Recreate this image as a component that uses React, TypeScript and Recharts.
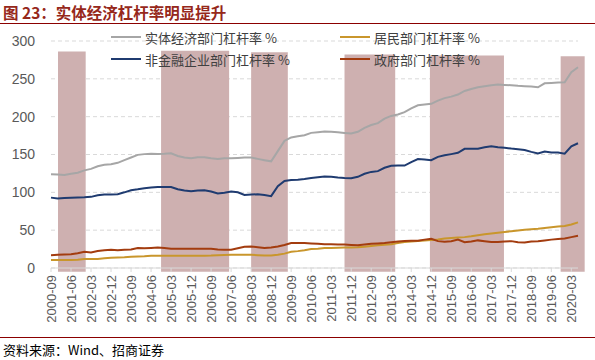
import React from "react";
import { LineChart, Line, XAxis, YAxis, CartesianGrid, ReferenceArea } from "recharts";

const quarters = [
  "2000-09", "2000-12",
  "2001-03", "2001-06", "2001-09", "2001-12",
  "2002-03", "2002-06", "2002-09", "2002-12",
  "2003-03", "2003-06", "2003-09", "2003-12",
  "2004-03", "2004-06", "2004-09", "2004-12",
  "2005-03", "2005-06", "2005-09", "2005-12",
  "2006-03", "2006-06", "2006-09", "2006-12",
  "2007-03", "2007-06", "2007-09", "2007-12",
  "2008-03", "2008-06", "2008-09", "2008-12",
  "2009-03", "2009-06", "2009-09", "2009-12",
  "2010-03", "2010-06", "2010-09", "2010-12",
  "2011-03", "2011-06", "2011-09", "2011-12",
  "2012-03", "2012-06", "2012-09", "2012-12",
  "2013-03", "2013-06", "2013-09", "2013-12",
  "2014-03", "2014-06", "2014-09", "2014-12",
  "2015-03", "2015-06", "2015-09", "2015-12",
  "2016-03", "2016-06", "2016-09", "2016-12",
  "2017-03", "2017-06", "2017-09", "2017-12",
  "2018-03", "2018-06", "2018-09", "2018-12",
  "2019-03", "2019-06", "2019-09", "2019-12",
  "2020-03", "2020-06",
];

const tickLabels = [
  "2000-09", "2001-06", "2002-03", "2002-12", "2003-09", "2004-06", "2005-03",
  "2005-12", "2006-09", "2007-06", "2008-03", "2008-12", "2009-09", "2010-06",
  "2011-03", "2011-12", "2012-09", "2013-06", "2014-03", "2014-12", "2015-09",
  "2016-06", "2017-03", "2017-12", "2018-09", "2019-06", "2020-03",
];

// 实体经济部门杠杆率
const realEconomy = [
  124, 123.5, 123, 124.5, 126, 129, 131, 134.5, 136.5, 137,
  139, 142.5, 146, 149.5, 150.5, 151, 150.5, 151, 151.7, 148,
  146, 145, 146.5, 146.5, 145, 144, 145, 145, 145.5, 146,
  146, 144.2, 142.5, 141, 154.5, 168, 172.5, 174, 175.5, 178.6,
  179.5, 180.3, 180, 179.4, 178.5, 177.7, 180, 185.2, 189, 191.5,
  197.5, 201, 202.8, 206, 211, 215.1, 216, 217, 221.3, 224.5,
  226.5, 229.2, 234, 236.5, 238.8, 240.3, 241.5, 242.4, 242, 241.5,
  240.7, 240.3, 239.8, 238.8, 244.1, 244.5, 245, 245.5, 258.7, 265.3,
];

// 居民部门杠杆率
const household = [
  10.6, 10.6, 10.6, 10.7, 11, 11.8, 12, 12, 12.8, 13.4,
  14, 14.3, 14.8, 15.2, 15.6, 16.2, 16.2, 16.2, 16.2, 16.2,
  16.2, 16.2, 16.2, 16.3, 16.5, 17, 17.2, 17.4, 17.6, 17.6,
  17.5, 17, 16.5, 16.5, 17.5, 19, 21.5, 22.3, 23.5, 25,
  25.5, 26.3, 26.5, 26.8, 27, 27, 27.3, 28, 29.2, 30,
  30.6, 31.5, 33, 34.3, 35, 35.7, 36.5, 37.1, 37.8, 38.9,
  39.5, 40.2, 40.8, 42, 43.4, 44.5, 45.5, 46.5, 47.6, 48.6,
  49.6, 50.4, 51.2, 51.9, 52.8, 53.8, 54.7, 55.5, 57.5, 60.3,
];

// 非金融企业部门杠杆率
const corporate = [
  93, 91.8, 92.5, 93, 93.3, 93.5, 94, 96, 97, 97,
  97.5, 100, 102.8, 104, 105.5, 106.5, 107, 107, 107, 104,
  102.5, 101.5, 102.5, 102.8, 101, 98.4, 99.5, 101, 100, 96.5,
  97, 97.5, 96.5, 95, 108, 115, 116.3, 116.7, 117.5, 119,
  120, 121, 120.5, 119.6, 119, 118.6, 120.5, 124.5, 127, 128,
  132.5, 135, 135.5, 135.4, 140, 144, 143.5, 142.4, 146.9, 149,
  150.5, 152.2, 157.5, 157.5, 157.5, 159.5, 160.9, 159.5, 158.8, 157.8,
  157, 156, 153.5, 151.3, 153.9, 152.8, 152.6, 151, 160.9, 164.9,
];

// 政府部门杠杆率
const government = [
  17, 17.5, 18, 18.3, 19.5, 21.5, 20.5, 22.5, 23.5, 24,
  23.5, 24, 24.5, 26.5, 26, 26.5, 27, 26.5, 25.5, 25.5,
  25.5, 25.5, 25.5, 25.5, 25.5, 24.5, 24, 24, 26, 28,
  28.3, 27.5, 26.5, 27, 28.5, 30.5, 33, 33, 33, 32.5,
  32, 31.5, 31.5, 31, 31, 30.5, 30, 31, 32, 32.5,
  33, 34, 35, 35.7, 36, 36, 37.5, 38.5, 35.5, 34.7,
  35.5, 37.5, 34, 35, 36.5, 35.5, 34.5, 34.3, 35, 35.5,
  34, 33.8, 35, 35.5, 36.5, 37.5, 38.3, 39, 40.8, 42.6,
];

// shaded periods, in quarter index units
const bandStart = [1.05, 16.5, 30, 44, 56.8, 76.4];
const bandEnd = [5.2, 26.7, 35.5, 51.6, 67.9, 80];
const bandTop = [286, 287, 285, 282, 281, 280];
const bandBottom = -5;

const yTicks = [0, 50, 100, 150, 200, 250, 300];

const series = [
  { key: "real", name: "实体经济部门杠杆率 %", color: "#a6a6a6" },
  { key: "corporate", name: "非金融企业部门杠杆率 %", color: "#1f3b70" },
  { key: "household", name: "居民部门杠杆率 %", color: "#c9962c" },
  { key: "government", name: "政府部门杠杆率 %", color: "#a33c0f" },
];

const data = quarters.map((q, i) => ({
  i,
  q,
  real: realEconomy[i],
  household: household[i],
  corporate: corporate[i],
  government: government[i],
}));

const tickIdx = tickLabels.map((t) => quarters.indexOf(t));

const XTick = (props: any) => {
  const { x, y, payload } = props;
  return (
    <text
      x={0}
      y={0}
      transform={`translate(${x},${y}) rotate(-90)`}
      textAnchor="end"
      dominantBaseline="central"
      fontSize={13}
      fill="#595959"
      fontFamily="'Liberation Sans', Arial, sans-serif"
    >
      {quarters[payload.value]}
    </text>
  );
};

const legendPos = [
  { left: 111, top: 37 },
  { left: 111, top: 59 },
  { left: 340, top: 37 },
  { left: 340, top: 59 },
];

export default function App() {
  return (
    <div
      style={{
        position: "absolute",
        left: 0,
        top: 0,
        width: 595,
        height: 360,
        background: "#fff",
        overflow: "hidden",
      }}
    >
      <div
        style={{
          position: "absolute",
          left: 3,
          top: 2,
          fontFamily: "'Noto Sans CJK SC', sans-serif",
          fontWeight: 700,
          fontSize: 15.5,
          color: "#96281b",
          whiteSpace: "nowrap",
          lineHeight: "20px",
        }}
      >
        图 23：实体经济杠杆率明显提升
      </div>
      <div style={{ position: "absolute", left: 0, top: 23, width: 595, height: 1, background: "#8b0000" }} />

      <div style={{ position: "absolute", left: 0, top: 0 }}>
        <LineChart width={595} height={360} data={data} margin={{ top: 41, right: 17, left: 0, bottom: 32 }}>
          <CartesianGrid vertical={false} stroke="#d9d9d9" strokeDasharray="4 3" />
          {bandStart.map((s, k) => (
            <ReferenceArea
              key={k}
              x1={s}
              x2={bandEnd[k]}
              y1={bandBottom}
              y2={bandTop[k]}
              fill="#ceb0b0"
              fillOpacity={1}
              stroke="none"
              ifOverflow="visible"
            />
          ))}
          <XAxis
            dataKey="i"
            type="number"
            domain={[0, 79]}
            ticks={tickIdx}
            interval={0}
            height={60}
            tick={<XTick />}
            tickSize={4}
            tickMargin={3}
            axisLine={{ stroke: "#d9d9d9" }}
            tickLine={{ stroke: "#d9d9d9" }}
          />
          <YAxis
            domain={[0, 300]}
            ticks={yTicks}
            width={51}
            axisLine={false}
            tickLine={false}
            tickSize={0}
            tickMargin={16}
            tick={{ fontSize: 14, fill: "#595959", fontFamily: "'Liberation Sans', Arial, sans-serif" }}
          />
          {series.map((s) => (
            <Line
              key={s.key}
              dataKey={s.key}
              name={s.name}
              type="linear"
              stroke={s.color}
              strokeWidth={2}
              dot={false}
              isAnimationActive={false}
            />
          ))}
        </LineChart>
      </div>

      {series.map((s, k) => (
        <div
          key={s.key}
          style={{
            position: "absolute",
            left: legendPos[k].left,
            top: legendPos[k].top - 10,
            height: 20,
            display: "flex",
            alignItems: "center",
            whiteSpace: "nowrap",
          }}
        >
          <div style={{ width: 30, height: 2, background: s.color, marginRight: 4 }} />
          <span
            style={{
              fontFamily: "'Noto Sans CJK SC', sans-serif",
              fontSize: 13,
              color: "#404040",
            }}
          >
            {s.name}
          </span>
        </div>
      ))}

      <div style={{ position: "absolute", left: 0, top: 337, width: 595, height: 1, background: "#8b0000" }} />
      <div
        style={{
          position: "absolute",
          left: 3,
          top: 340,
          fontFamily: "'Noto Sans CJK SC', sans-serif",
          fontSize: 13,
          color: "#000",
          whiteSpace: "nowrap",
          lineHeight: "20px",
        }}
      >
        资料来源：Wind、招商证券
      </div>
    </div>
  );
}
